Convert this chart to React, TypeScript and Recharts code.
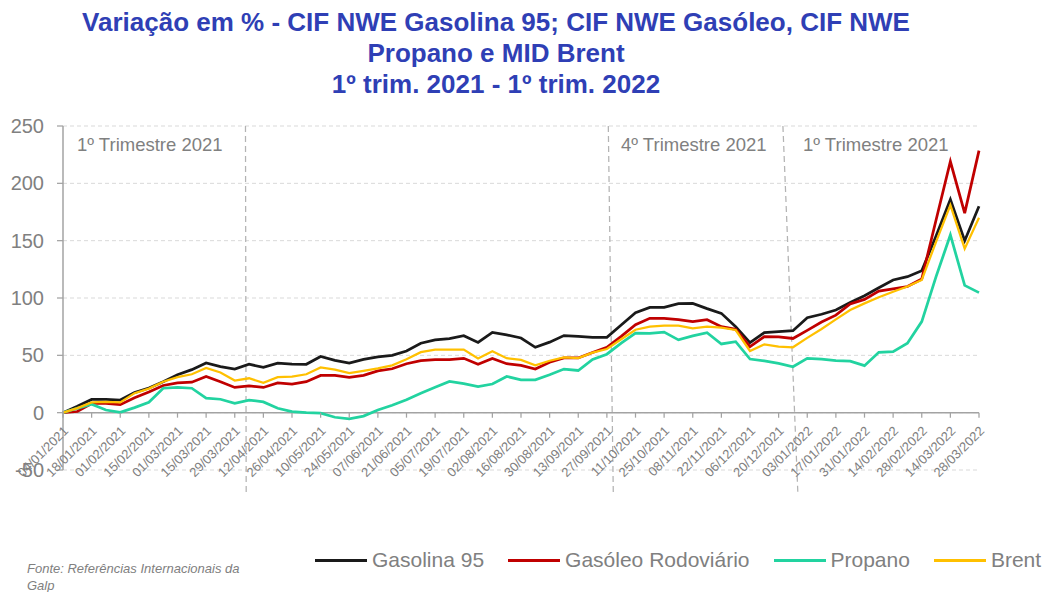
import { LineChart, Line, XAxis, YAxis, CartesianGrid, ReferenceLine } from 'recharts'

// weekly quotes, 04/01/2021 .. 28/03/2022
const weeks = [
  '04/01/2021', '11/01/2021', '18/01/2021', '25/01/2021', '01/02/2021', '08/02/2021', '15/02/2021', '22/02/2021',
  '01/03/2021', '08/03/2021', '15/03/2021', '22/03/2021', '29/03/2021', '05/04/2021', '12/04/2021', '19/04/2021',
  '26/04/2021', '03/05/2021', '10/05/2021', '17/05/2021', '24/05/2021', '31/05/2021', '07/06/2021', '14/06/2021',
  '21/06/2021', '28/06/2021', '05/07/2021', '12/07/2021', '19/07/2021', '26/07/2021', '02/08/2021', '09/08/2021',
  '16/08/2021', '23/08/2021', '30/08/2021', '06/09/2021', '13/09/2021', '20/09/2021', '27/09/2021', '04/10/2021',
  '11/10/2021', '18/10/2021', '25/10/2021', '01/11/2021', '08/11/2021', '15/11/2021', '22/11/2021', '29/11/2021',
  '06/12/2021', '13/12/2021', '20/12/2021', '27/12/2021', '03/01/2022', '10/01/2022', '17/01/2022', '24/01/2022',
  '31/01/2022', '07/02/2022', '14/02/2022', '21/02/2022', '28/02/2022', '07/03/2022', '14/03/2022', '21/03/2022',
  '28/03/2022',
]

const gasolina95 = [
  0, 5.5, 11.5, 11.5, 11, 17.5, 21.5, 27, 33, 37.5,
  43.3, 40.2, 38, 42.2, 39.5, 43.2, 42.4, 42.2, 49, 45.6,
  43.2, 46.4, 48.6, 50, 53.8, 60.6, 63.5, 64.6, 67.1, 61.2,
  70, 67.8, 65.1, 57, 61.5, 67.2, 66.5, 65.7, 65.7, 76.5,
  87.2, 91.8, 91.8, 95, 95.3, 90.7, 86.6, 75, 61, 69.8,
  70.6, 71.5, 82.8, 85.8, 89.5, 96, 102, 109, 115.7, 118.6,
  123.8, 154, 186, 150, 180,
]

const gasoleo = [
  0, 1, 8, 8, 7, 13, 18, 23.7, 26, 26.6,
  31.6, 27, 22, 23.4, 22, 26, 25, 27, 32.5, 32.5,
  30.8, 32.5, 36.4, 38.3, 42.7, 45.4, 46.3, 46.2, 47.4, 42.2,
  47.2, 42.7, 41.2, 38, 44, 47.7, 47.7, 52.5, 57, 66.5,
  76.7, 82.3, 82.3, 81.2, 79.4, 81.1, 75, 72.7, 57.6, 66.3,
  66, 64.7, 71.8, 79, 85, 94.8, 98.8, 106, 108, 110,
  116.6, 168, 219, 174, 228.5,
]

const propano = [
  0, 3.8, 7.3, 2.3, 0.3, 4.4, 9, 21.3, 22, 21.3,
  12.6, 11.7, 8.2, 11, 9.4, 3.8, 1, 0, -0.5, -4,
  -5.3, -3, 2.3, 6.5, 11.3, 17, 22.1, 27.3, 25.4, 22.8,
  25, 31.6, 28.7, 28.7, 33, 38, 36.8, 46.5, 51, 60.7,
  69.4, 69.1, 70.3, 63.5, 66.9, 69.8, 59.9, 61.9, 46.8, 45.1,
  43, 40, 47.4, 46.6, 45.3, 45, 41, 52.6, 53.2, 60.5,
  79.4, 118.6, 155, 111, 104.7,
]

const brent = [
  0, 4, 9, 9.5, 9, 17, 21, 27, 31, 33.5,
  39, 35, 28, 30, 26, 31, 31.5, 33.5, 39.5, 37.5,
  34.5, 36.5, 38.6, 41.3, 46.6, 52.8, 55, 55, 55, 47.2,
  53.5, 47.5, 46, 41.3, 45.3, 48.3, 47.6, 52.3, 55.5, 64,
  72.3, 75, 75.9, 75.9, 73.5, 75, 74.1, 72.1, 53.8, 59.6,
  57.6, 57, 65.2, 73, 81.4, 89.5, 95.3, 100.6, 105.5, 110,
  115.7, 149, 181, 143, 170,
]

const yTicks = [-50, 0, 50, 100, 150, 200, 250]

// quarter separators (week position at top / at bottom, they lean a little)
const quarterLines = [
  [12.75, 12.8],
  [38.1, 38.45],
  [50.3, 51.35],
]
const quarterLabels = [
  { text: '1º Trimestre 2021', left: 77 },
  { text: '4º Trimestre 2021', left: 621 },
  { text: '1º Trimestre 2021', left: 803 },
]

const series = [
  { key: 'gasolina', name: 'Gasolina 95', color: '#1a1a1a', width: 2.75 },
  { key: 'gasoleo', name: 'Gasóleo Rodoviário', color: '#c00000', width: 2.75 },
  { key: 'propano', name: 'Propano', color: '#22d3a0', width: 2.75 },
  { key: 'brent', name: 'Brent', color: '#ffc000', width: 2.25 },
]

const data = weeks.map((date, i) => ({
  i,
  date,
  gasolina: gasolina95[i],
  gasoleo: gasoleo[i],
  propano: propano[i],
  brent: brent[i],
}))

const xTicks = weeks.map((_, i) => i).filter((i) => i % 2 === 0)

const W = 1044
const H = 592
const MARGIN = { top: 126, right: 65, bottom: 92, left: 0 }
const X_AXIS_H = 30
const PLOT_H = H - MARGIN.top - MARGIN.bottom - X_AXIS_H
// x axis crosses at 0, which sits 50 of the 300 units above the bottom
const ZERO_OFFSET = (PLOT_H * 50) / 300

const FONT = '"Liberation Sans", Arial, sans-serif'
const GREY = '#808080'
const AXIS = '#a3a3a3'

function DateTick(props: any) {
  const { x, y, payload } = props
  const y0 = y - ZERO_OFFSET
  return (
    <g>
      <line x1={x} y1={y0} x2={x} y2={y0 + 5} stroke={AXIS} strokeWidth={1.25} />
      <text
        transform={`translate(${x + 6},${y0 + 19}) rotate(-45)`}
        textAnchor="end"
        fill={GREY}
        fontSize={13}
        fontFamily={FONT}
      >
        {weeks[payload.value]}
      </text>
    </g>
  )
}

export default function App() {
  return (
    <div style={{ position: 'absolute', left: 0, top: 0, width: W, height: H, overflow: 'hidden', background: '#fff', fontFamily: FONT }}>
      <div
        style={{
          position: 'absolute', left: 0, top: 7, width: 992, textAlign: 'center',
          fontSize: 26, lineHeight: '31px', fontWeight: 'bold', color: '#2f3fb5',
        }}
      >
        Variação em % - CIF NWE Gasolina 95; CIF NWE Gasóleo, CIF NWE
        <br />
        Propano e MID Brent
        <br />
        1º trim. 2021 - 1º trim. 2022
      </div>

      <LineChart width={W} height={H} data={data} margin={MARGIN} style={{ position: 'absolute', left: 0, top: 0 }}>
        <CartesianGrid vertical={false} stroke="#d9d9d9" strokeDasharray="4 3" />
        <XAxis
          dataKey="i"
          type="number"
          domain={[0, 64]}
          ticks={xTicks}
          interval={0}
          height={X_AXIS_H}
          axisLine={false}
          tickLine={false}
          tickSize={0}
          tickMargin={0}
          tick={<DateTick />}
        />
        <YAxis
          type="number"
          domain={[-50, 250]}
          ticks={yTicks}
          interval={0}
          width={63}
          axisLine={{ stroke: AXIS, strokeWidth: 1.5 }}
          tickLine={{ stroke: AXIS, strokeWidth: 1.25 }}
          tickSize={6}
          tickMargin={13}
          tick={{ fill: GREY, fontSize: 20, fontFamily: FONT }}
        />
        <ReferenceLine y={0} stroke={AXIS} strokeWidth={1.5} />
        {quarterLines.map(([top, bottom], k) => (
          <ReferenceLine
            key={k}
            segment={[{ x: top, y: 250 }, { x: bottom, y: -72 }]}
            ifOverflow="visible"
            stroke="#b3b3b3"
            strokeWidth={1.25}
            strokeDasharray="6 4"
          />
        ))}
        {series.map((s) => (
          <Line
            key={s.key}
            type="linear"
            dataKey={s.key}
            name={s.name}
            stroke={s.color}
            strokeWidth={s.width}
            dot={false}
            activeDot={false}
            isAnimationActive={false}
          />
        ))}
      </LineChart>

      {quarterLabels.map((q, k) => (
        <div key={k} style={{ position: 'absolute', left: q.left, top: 136, fontSize: 18.5, lineHeight: '18px', color: GREY, whiteSpace: 'nowrap' }}>
          {q.text}
        </div>
      ))}

      <div style={{ position: 'absolute', left: 315, top: 546, height: 28, display: 'flex', alignItems: 'center', whiteSpace: 'nowrap' }}>
        {series.map((s) => (
          <div key={s.key} style={{ display: 'flex', alignItems: 'center', marginRight: 24 }}>
            <span style={{ display: 'inline-block', width: 52, height: 3, background: s.color, marginRight: 5 }} />
            <span style={{ fontSize: 21, color: GREY }}>{s.name}</span>
          </div>
        ))}
      </div>

      <div style={{ position: 'absolute', left: 27, top: 560, fontSize: 13, lineHeight: '17px', fontStyle: 'italic', color: GREY }}>
        Fonte: Referências Internacionais da
        <br />
        Galp
      </div>
    </div>
  )
}
